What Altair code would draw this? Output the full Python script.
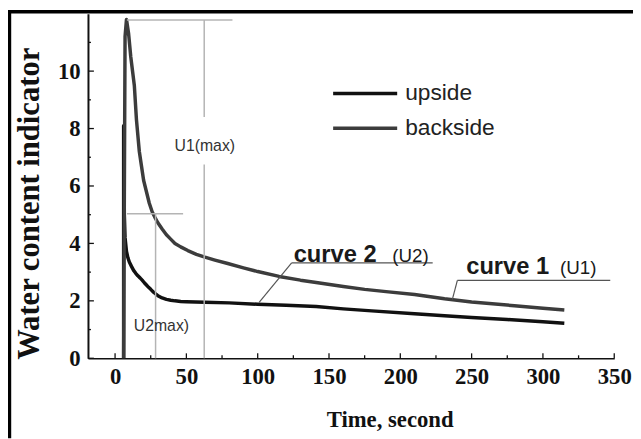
import altair as alt
import pandas as pd

# ---- data ----
up_t = [6, 6, 6.5, 7, 8, 9, 10, 11.5, 13, 14.5, 16, 17.5, 19, 20.5, 22, 23.5, 25, 27, 30, 33, 36, 39, 42, 46, 50, 63, 80, 100, 120, 141, 160, 180, 210, 231, 250, 275, 300, 315]
up_v = [0, 8.1, 5.0, 4.2, 3.72, 3.5, 3.35, 3.2, 3.06, 2.96, 2.87, 2.8, 2.72, 2.63, 2.55, 2.47, 2.4, 2.3, 2.18, 2.1, 2.05, 2.02, 2.0, 1.98, 1.97, 1.95, 1.93, 1.88, 1.85, 1.8, 1.72, 1.65, 1.55, 1.48, 1.42, 1.35, 1.27, 1.22]
back_t = [6, 7, 8, 9.5, 11, 12.5, 13.5, 15, 17, 18.5, 20, 22, 24, 26, 28, 30, 33, 36, 39, 42, 46, 51, 57, 63, 70, 79, 90, 100, 115, 130, 141, 160, 175, 190, 210, 231, 250, 280, 300, 315]
back_v = [0, 11.2, 11.8, 11.3, 10.5, 9.9, 9.5, 8.3, 7.2, 6.7, 6.2, 5.8, 5.4, 5.1, 4.9, 4.72, 4.5, 4.3, 4.15, 4.0, 3.88, 3.75, 3.62, 3.52, 3.42, 3.3, 3.15, 3.02, 2.85, 2.72, 2.64, 2.5, 2.4, 2.32, 2.22, 2.07, 1.96, 1.83, 1.74, 1.68]
series = ["upside", "backside"]
colors = ["#111111", "#3c3c3c"]

x_ticks = [0, 50, 100, 150, 200, 250, 300, 350]
x_minor = [25, 75, 125, 175, 225, 275, 325]
y_ticks = [0, 2, 4, 6, 8, 10]
y_minor = [1, 3, 5, 7, 9, 11]

# gray guide segments (t1, v1, t2, v2)
g_t1 = [8.3, 62.5, 62.5, 8.3, 28.4]
g_v1 = [11.78, 11.78, 6.75, 5.03, 5.03]
g_t2 = [82.3, 62.5, 62.5, 47.7, 28.4]
g_v2 = [11.78, 8.4, 0, 5.03, 0]

# annotation leader / underline segments
a_t1 = [123.8, 123.8, 240, 240]
a_v1 = [3.32, 3.32, 2.71, 2.71]
a_t2 = [222.7, 101, 347.2, 236.5]
a_v2 = [3.32, 1.95, 2.71, 2.05]

big_text = ["curve 2", "curve 1"]
big_t = [125.2, 246.2]
big_v = [3.37, 2.92]
small_text = ["(U2)", "(U1)"]
small_t = [194.4, 312]
small_v = [3.37, 2.92]
mark_text = ["U1(max)", "U2max)"]
mark_t = [62.9, 32.5]
mark_v = [7.39, 1.13]

leg_t1 = [152.9, 152.9]
leg_t2 = [197.8, 197.8]
leg_v = [9.22, 8.01]
leg_text_t = [203.4, 203.4]

# ---- tables ----
curves = pd.DataFrame({
    "t": up_t + back_t,
    "v": up_v + back_v,
    "series": ["upside"] * len(up_t) + ["backside"] * len(back_t),
    "idx": list(range(len(up_t))) + list(range(len(back_t))),
})
guides = pd.DataFrame({"t1": g_t1, "v1": g_v1, "t2": g_t2, "v2": g_v2})
leaders = pd.DataFrame({"t1": a_t1, "v1": a_v1, "t2": a_t2, "v2": a_v2})
bigs = pd.DataFrame({"label": big_text, "t": big_t, "v": big_v})
smalls = pd.DataFrame({"label": small_text, "t": small_t, "v": small_v})
marks = pd.DataFrame({"label": mark_text, "t": mark_t, "v": mark_v})
legend = pd.DataFrame({"series": series, "t1": leg_t1, "t2": leg_t2, "v": leg_v, "tt": leg_text_t})
xmaj = pd.DataFrame({"t": x_ticks})
xmin = pd.DataFrame({"t": x_minor})
ymaj = pd.DataFrame({"v": y_ticks})
ymin = pd.DataFrame({"v": y_minor})
dummy = pd.DataFrame({"k": [0]})

W, H = 533, 349
xs = alt.Scale(domain=[-19, 350], nice=False, zero=False)
ys = alt.Scale(domain=[0, 12], nice=False, zero=False)
cs = alt.Scale(domain=series, range=colors)
SERIF = "Liberation Serif"
SANS = "Liberation Sans"
XT = "Time, second"
YT = "Water content indicator"

x_axis = alt.Axis(values=x_ticks, ticks=False, grid=False, domainColor="#111", domainWidth=1.5,
                  labelFont=SERIF, labelFontWeight="bold", labelFontSize=23, labelColor="#111",
                  labelPadding=8, labelFlush=False, format="d",
                  titleFont=SERIF, titleFontWeight="bold", titleFontSize=23, titleColor="#111",
                  titleX=305.5, titleY=69, titleBaseline="alphabetic", titleAlign="center")
y_axis = alt.Axis(values=y_ticks, ticks=False, grid=False, domainColor="#111", domainWidth=2,
                  labelFont=SERIF, labelFontWeight="bold", labelFontSize=23, labelColor="#111",
                  labelPadding=8, format="d",
                  titleFont=SERIF, titleFontWeight="bold", titleFontSize=31, titleColor="#111",
                  titleX=-59, titleY=192, titleAngle=270, titleBaseline="middle", titleAlign="center")


def X(f):
    return alt.X(f, scale=xs, axis=x_axis, title=XT)


def Y(f):
    return alt.Y(f, scale=ys, axis=y_axis, title=YT)


lines = alt.Chart(curves).mark_line(strokeWidth=3.5, strokeJoin="round").encode(
    x=X("t:Q"), y=Y("v:Q"),
    color=alt.Color("series:N", scale=cs, legend=None),
    order="idx:Q",
)

guide_rules = alt.Chart(guides).mark_rule(color="#b4b4b4", strokeWidth=1.5).encode(
    x=X("t1:Q"), y=Y("v1:Q"), x2="t2:Q", y2="v2:Q")

leader_rules = alt.Chart(leaders).mark_rule(color="#555", strokeWidth=1.2).encode(
    x=X("t1:Q"), y=Y("v1:Q"), x2="t2:Q", y2="v2:Q")

big_txt = alt.Chart(bigs).mark_text(font=SANS, fontWeight="bold", fontSize=24, align="left",
                                    baseline="alphabetic", color="#1a1a1a").encode(
    x=X("t:Q"), y=Y("v:Q"), text="label:N")
small_txt = alt.Chart(smalls).mark_text(font=SANS, fontSize=19, align="left",
                                        baseline="alphabetic", color="#1a1a1a").encode(
    x=X("t:Q"), y=Y("v:Q"), text="label:N")
mark_txt = alt.Chart(marks).mark_text(font=SANS, fontSize=16, align="center",
                                      baseline="middle", color="#333").encode(
    x=X("t:Q"), y=Y("v:Q"), text="label:N")

leg_lines = alt.Chart(legend).mark_rule(strokeWidth=3.5).encode(
    x=X("t1:Q"), x2="t2:Q", y=Y("v:Q"),
    color=alt.Color("series:N", scale=cs, legend=None))
leg_text = alt.Chart(legend).mark_text(font=SANS, fontSize=23, align="left", baseline="middle",
                                       color="#222").encode(
    x=X("tt:Q"), y=Y("v:Q"), text="series:N")

xmaj_r = alt.Chart(xmaj).mark_rule(color="#111", strokeWidth=1.3).encode(
    x=X("t:Q"), y=alt.value(H), y2=alt.value(H - 5))
xmin_r = alt.Chart(xmin).mark_rule(color="#111", strokeWidth=1.3).encode(
    x=X("t:Q"), y=alt.value(H), y2=alt.value(H - 3))
ymaj_r = alt.Chart(ymaj).mark_rule(color="#111", strokeWidth=1.3).encode(
    y=Y("v:Q"), x=alt.value(0), x2=alt.value(6))
ymin_r = alt.Chart(ymin).mark_rule(color="#111", strokeWidth=1.3).encode(
    y=Y("v:Q"), x=alt.value(0), x2=alt.value(3))

border_left = alt.Chart(dummy).mark_rule(color="black", strokeWidth=3.5).encode(
    x=alt.value(-79.5), y=alt.value(-3), y2=alt.value(430))
border_top = alt.Chart(dummy).mark_rule(color="black", strokeWidth=3.5).encode(
    x=alt.value(-81), x2=alt.value(560), y=alt.value(-2))

chart = alt.layer(
    lines, guide_rules, leader_rules, xmaj_r, xmin_r, ymaj_r, ymin_r,
    big_txt, small_txt, mark_txt, leg_lines, leg_text, border_left, border_top,
).properties(
    width=W, height=H,
    autosize=alt.AutoSizeParams(type="none"),
    padding={"left": 81, "top": 3, "right": 19, "bottom": 79},
    background="white",
).configure_view(stroke=None)

chart.save("out.html", embed_options={"renderer": "svg", "actions": False})
